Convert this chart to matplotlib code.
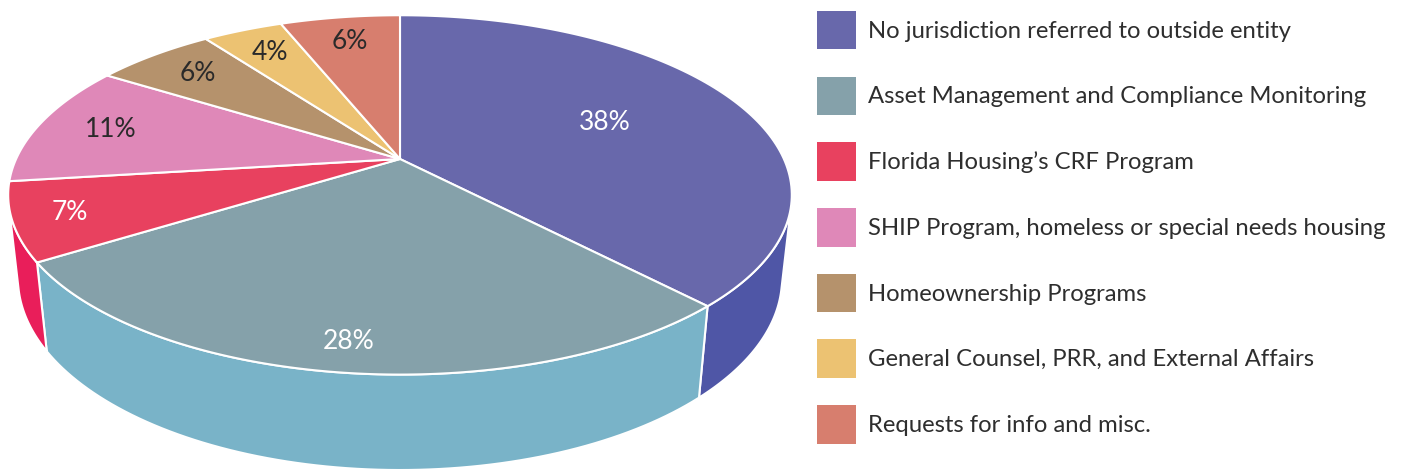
import numpy as np
import matplotlib.pyplot as plt
from matplotlib.patches import Polygon, Patch

categories = [
    'No jurisdiction referred to outside entity',
    'Asset Management and Compliance Monitoring',
    'Florida Housing\u2019s CRF Program',
    'SHIP Program, homeless or special needs housing',
    'Homeownership Programs',
    'General Counsel, PRR, and External Affairs',
    'Requests for info and misc.',
]
shares = [38, 28, 7, 11, 6, 4, 6]

top_colors = ['#6868ab', '#85a1aa', '#e8415f', '#df88b8', '#b5926c', '#ecc272', '#d77e6e']
side_colors = ['#4f56a6', '#79b3c8', '#e91e5a', '#d070a5', '#9c7a55', '#d9ab55', '#c0665a']
label_colors = ['white', 'white', 'white', '#2a2a2a', '#2a2a2a', '#2a2a2a', '#2a2a2a']
label_r = [0.6, 0.88, 0.86, 0.8, 0.8, 0.8, 0.8]

plt.rcParams['font.family'] = ['Lato', 'DejaVu Sans']

W, H = 1403, 470
fig = plt.figure(figsize=(W / 100, H / 100), dpi=100)
ax = fig.add_axes([0, 0, 1, 1])
ax.set_xlim(0, W)
ax.set_ylim(H, 0)
ax.axis('off')

# perspective view of a flat cylinder, in pixel space
cx, cy = 400, 159
tilt = np.radians(26.7)
dist = 4.47
focal = 1716
depth = 0.245


def project(theta, r=1.0, z=0.0):
    x = r * np.cos(theta)
    y = r * np.sin(theta)
    d = dist + y * np.cos(tilt) - z * np.sin(tilt)
    u = focal * x / d
    v = focal * (z * np.cos(tilt) + y * np.sin(tilt)) / d
    return np.column_stack([cx + u, cy - v])


# slices go clockwise from 12 o'clock
cum = np.concatenate([[0], np.cumsum(shares)]) / sum(shares)
edges = np.pi / 2 - 2 * np.pi * cum

# visible part of the side wall
a = np.arcsin(1 / (dist * np.cos(tilt)))
vis_lo, vis_hi = -np.pi + a, -a

for i in range(len(shares)):
    lo = max(edges[i + 1], vis_lo)
    hi = min(edges[i], vis_hi)
    if hi <= lo:
        continue
    t = np.linspace(lo, hi, 80)
    pts = np.vstack([project(t), project(t[::-1], z=-depth)])
    ax.add_patch(Polygon(pts, closed=True, facecolor=side_colors[i],
                         edgecolor='white', linewidth=1.5, zorder=1))

for i in range(len(shares)):
    t = np.linspace(edges[i], edges[i + 1], 120)
    pts = np.vstack([project(np.array([0.0]), r=0.0), project(t)])
    ax.add_patch(Polygon(pts, closed=True, facecolor=top_colors[i],
                         edgecolor='white', linewidth=1.5, zorder=2))
    mid = (edges[i] + edges[i + 1]) / 2
    lx, ly = project(np.array([mid]), r=label_r[i])[0]
    ax.text(lx, ly, f'{shares[i]}%', color=label_colors[i], fontsize=19,
            ha='center', va='center', zorder=3)

# legend: ~38px squares, 65px row pitch
handles = [Patch(facecolor=c, edgecolor='none') for c in top_colors]
fig.legend(handles, categories, loc='upper left',
           bbox_to_anchor=(817 / W, 1 - 11 / H), frameon=False,
           fontsize=17.2, handlelength=1.65, handleheight=2.1,
           labelspacing=1.14, handletextpad=0.5, borderpad=0,
           borderaxespad=0, labelcolor='#2e2e2e')

fig.savefig('out.png', dpi=100)
